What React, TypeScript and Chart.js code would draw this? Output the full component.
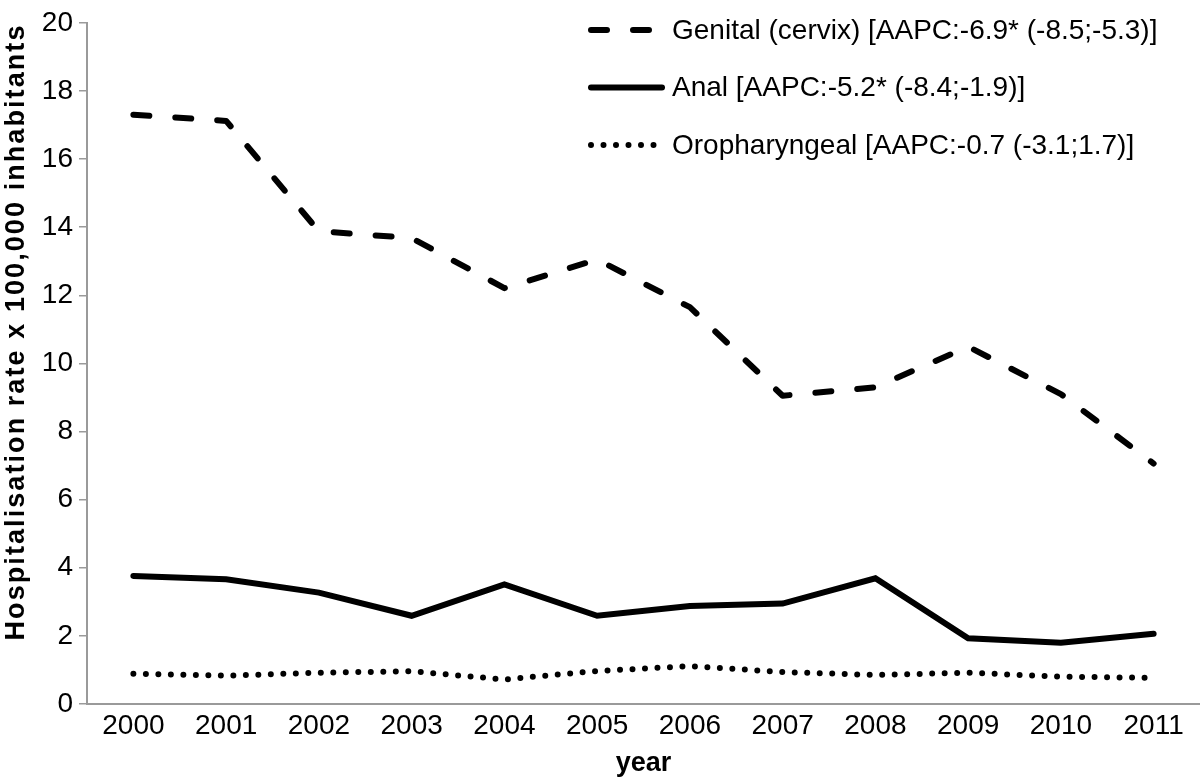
import React, { useEffect, useRef } from "react";
import { Chart, registerables } from "chart.js";

Chart.register(...registerables);

// ---- data ----
const years = ["2000", "2001", "2002", "2003", "2004", "2005", "2006", "2007", "2008", "2009", "2010", "2011"];

const genitalLabel = "Genital (cervix) [AAPC:-6.9* (-8.5;-5.3)]";
const analLabel = "Anal [AAPC:-5.2* (-8.4;-1.9)]";
const oroLabel = "Oropharyngeal [AAPC:-0.7 (-3.1;1.7)]";

const genital = [17.3, 17.12, 13.88, 13.68, 12.21, 13.05, 11.65, 9.05, 9.3, 10.49, 9.1, 7.06];
const anal = [3.76, 3.66, 3.27, 2.59, 3.51, 2.59, 2.88, 2.95, 3.69, 1.93, 1.8, 2.06];
const oropharyngeal = [0.89, 0.83, 0.92, 0.96, 0.72, 0.97, 1.11, 0.94, 0.85, 0.92, 0.8, 0.77];

const yMin = 0;
const yMax = 20;
const yStep = 2;

const xTitle = "year";
const yTitle = "Hospitalisation rate x 100,000 inhabitants";

const FONT = "'Liberation Sans', Arial, Helvetica, sans-serif";
const AXIS_GRAY = "#9a9a9a";

// legend drawn inside the plot area, top right
const legendPlugin = {
  id: "insideLegend",
  afterDraw(chart: any) {
    const ctx = chart.ctx as CanvasRenderingContext2D;
    chart.data.datasets.forEach((ds: any, i: number) => {
      const y = 30 + i * 57.5;
      ctx.save();
      ctx.strokeStyle = ds.borderColor;
      ctx.lineWidth = ds.borderWidth;
      ctx.lineCap = ds.borderCapStyle || "butt";
      ctx.setLineDash(ds.borderDash || []);
      ctx.beginPath();
      ctx.moveTo(591, y);
      ctx.lineTo(i === 1 ? 662 : 660, y);
      ctx.stroke();
      ctx.setLineDash([]);
      ctx.fillStyle = "#000";
      ctx.font = `28px ${FONT}`;
      ctx.textAlign = "left";
      ctx.textBaseline = "middle";
      ctx.fillText(ds.label, 672, y + 1);
      ctx.restore();
    });
  },
};

// rotated y-axis title
const yTitlePlugin = {
  id: "yTitle",
  afterDraw(chart: any) {
    const ctx = chart.ctx as CanvasRenderingContext2D;
    ctx.save();
    ctx.font = `bold 27px ${FONT}`;
    const w = ctx.measureText(yTitle).width;
    const target = 615;
    const spacing = Math.max(0, (target - w) / (yTitle.length - 1));
    (ctx as any).letterSpacing = `${spacing.toFixed(2)}px`;
    ctx.translate(17, 332);
    ctx.rotate(-Math.PI / 2);
    ctx.fillStyle = "#000";
    ctx.textAlign = "center";
    ctx.textBaseline = "middle";
    ctx.fillText(yTitle, 0, 0);
    ctx.restore();
  },
};

export default function App() {
  const canvasRef = useRef<HTMLCanvasElement | null>(null);

  useEffect(() => {
    document.body.style.margin = "0";
    const canvas = canvasRef.current;
    if (!canvas) return;
    const chart = new Chart(canvas, {
      type: "line",
      data: {
        labels: years,
        datasets: [
          {
            label: genitalLabel,
            data: genital,
            borderColor: "#000",
            borderWidth: 6,
            borderDash: [16, 26],
            borderCapStyle: "round",
            borderJoinStyle: "round",
            pointRadius: 0,
            tension: 0,
            fill: false,
          },
          {
            label: analLabel,
            data: anal,
            borderColor: "#000",
            borderWidth: 6,
            borderCapStyle: "round",
            borderJoinStyle: "miter",
            pointRadius: 0,
            tension: 0,
            fill: false,
          },
          {
            label: oroLabel,
            data: oropharyngeal,
            borderColor: "#000",
            borderWidth: 6,
            borderDash: [0, 12.5],
            borderCapStyle: "round",
            borderJoinStyle: "round",
            pointRadius: 0,
            tension: 0,
            fill: false,
          },
        ],
      },
      options: {
        responsive: false,
        animation: false,
        layout: { padding: { top: 16, left: 0, right: 0, bottom: 0 } },
        plugins: {
          legend: { display: false },
          tooltip: { enabled: false },
          title: { display: false },
        },
        scales: {
          x: {
            type: "category",
            offset: true,
            grid: { display: false, drawTicks: false },
            border: { display: true, color: AXIS_GRAY, width: 2 },
            ticks: {
              color: "#000",
              font: { family: FONT, size: 28 },
              padding: 5,
              maxRotation: 0,
              autoSkip: false,
            },
            title: {
              display: true,
              text: xTitle,
              color: "#000",
              font: { family: FONT, size: 27, weight: "bold" },
              padding: { top: 0, bottom: 0 },
            },
            afterFit: (scale: any) => {
              scale.height = 76;
            },
          },
          y: {
            min: yMin,
            max: yMax,
            grid: {
              display: true,
              drawOnChartArea: false,
              drawTicks: true,
              tickLength: 8,
              color: AXIS_GRAY,
              lineWidth: 1.5,
            },
            border: { display: true, color: AXIS_GRAY, width: 2 },
            ticks: {
              stepSize: yStep,
              color: "#000",
              font: { family: FONT, size: 28 },
              padding: 6,
            },
            title: { display: false },
            afterFit: (scale: any) => {
              scale.width = 87;
            },
          },
        },
      },
      plugins: [legendPlugin, yTitlePlugin],
    });
    return () => chart.destroy();
  }, []);

  return (
    <div style={{ width: 1200, height: 780 }}>
      <canvas ref={canvasRef} width={1200} height={780} style={{ display: "block" }} />
    </div>
  );
}
